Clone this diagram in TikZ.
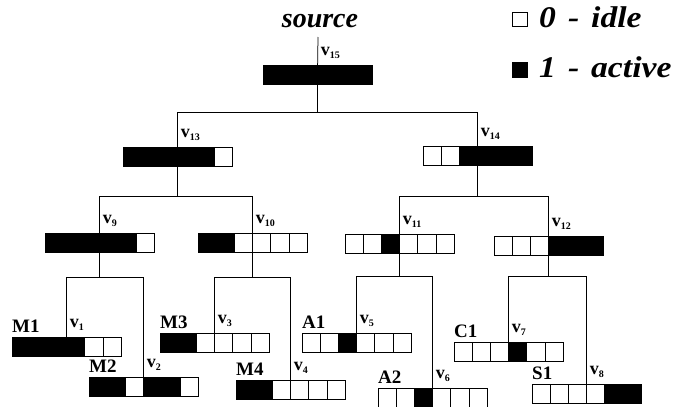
\documentclass[tikz,border=0pt]{standalone}
\usepackage{fontspec}
\setmainfont{Liberation Serif}
\newcommand\regbar[4]{%
  \node[bar] (#1) at (#2,#3) {};
  \foreach \c [count=\i from 0] in {#4} {
    \ifnum\c=1\relax
      \path[cellon] ([xshift=\i*18.2pt]#1.north west) rectangle ++(18.2,19.5);
    \else
      \path[celloff] ([xshift=\i*18.2pt]#1.north west) rectangle ++(18.2,19.5);
    \fi
  }%
}
\newcommand\vsub[1]{v{\fontsize{10}{10}\selectfont\raisebox{-3pt}{#1}}}
\newcommand\legword[1]{\scalebox{1.12}[1]{#1}}
\begin{document}
\begin{tikzpicture}[x=1pt,y=-1pt,
  bar/.style={minimum width=109.2pt, minimum height=19.5pt, inner sep=0pt, outer sep=0pt, anchor=north west},
  celloff/.style={draw, line width=0.8pt, fill=white},
  cellon/.style={draw, line width=0.8pt, fill=black},
  link/.style={line width=0.75pt},
  vlab/.style={anchor=south west, inner sep=0pt, font=\bfseries\fontsize{18}{18}\selectfont},
  nlab/.style={anchor=south west, inner sep=0pt, font=\bfseries\fontsize{19}{19}\selectfont},
  legtext/.style={anchor=base west, inner sep=0pt, font=\bfseries\itshape\fontsize{30}{30}\selectfont},
  legbox/.style={draw, line width=0.7pt, minimum size=14.5pt, inner sep=0pt}
]
\useasboundingbox (0,0) rectangle (686,407);

% bars
\regbar{v15}{263}{65}{1,1,1,1,1,1}
\regbar{v13}{123}{147}{1,1,1,1,1,0}
\regbar{v14}{423}{146}{0,0,1,1,1,1}
\regbar{v9}{45}{233}{1,1,1,1,1,0}
\regbar{v10}{198}{233}{1,1,0,0,0,0}
\regbar{v11}{345}{234}{0,0,1,0,0,0}
\regbar{v12}{494}{236}{0,0,0,1,1,1}
\regbar{v1}{12}{337}{1,1,1,1,0,0}
\regbar{v2}{89}{377}{1,1,0,1,1,0}
\regbar{v3}{160}{333}{1,1,0,0,0,0}
\regbar{v4}{236}{380}{1,1,0,0,0,0}
\regbar{v5}{302}{333}{0,0,1,0,0,0}
\regbar{v6}{378}{388}{0,0,1,0,0,0}
\regbar{v7}{454}{342}{0,0,0,1,0,0}
\regbar{v8}{532}{384}{0,0,0,0,1,1}

% source
\node[anchor=base, inner sep=0pt, font=\bfseries\itshape\fontsize{28}{28}\selectfont] (source) at (320,27) {source};
\coordinate (srcend) at (318,37);
\draw[link] (srcend) -- (v15.north);

% tree connectors
\draw[link] (v15.south) -- ++(0,28) -| (v13.north);
\draw[link] (v15.south) -- ++(0,28) -| (v14.north);
\draw[link] (v13.south) -- ++(0,30) -| (v9.north);
\draw[link] (v13.south) -- ++(0,30) -| (v10.north);
\draw[link] (v14.south) -- ++(0,30.5) -| (v11.north);
\draw[link] (v14.south) -- ++(0,30.5) -| (v12.north);
\draw[link] (v9.south) -- ++(0,25) -| (v1.north);
\draw[link] (v9.south) -- ++(0,25) -| (v2.north);
\draw[link] (v10.south) -- ++(0,25) -| (v3.north);
\draw[link] (v10.south) -- ++(0,25) -| (v4.north);
\draw[link] (v11.south) -- ++(0,23) -| (v5.north);
\draw[link] (v11.south) -- ++(0,23) -| (v6.north);
\draw[link] (v12.south) -- ++(0,21) -| (v7.north);
\draw[link] (v12.south) -- ++(0,21) -| (v8.north);

% v labels
\foreach \n in {15,13,14,9,10,11,12,1,2,3,4,5,6,7,8} {
  \node[vlab] (lab\n) at ([xshift=3pt,yshift=6pt]v\n.north) {\vsub{\n}};
}

% names
\node[nlab] (m1) at ([yshift=4pt]v1.north west) {M1};
\node[nlab] (m2) at ([yshift=4pt]v2.north west) {M2};
\node[nlab] (m3) at ([yshift=4pt]v3.north west) {M3};
\node[nlab] (m4) at ([yshift=4pt]v4.north west) {M4};
\node[nlab] (a1) at ([yshift=4pt]v5.north west) {A1};
\node[nlab] (a2) at ([yshift=4pt]v6.north west) {A2};
\node[nlab] (c1) at ([yshift=4pt]v7.north west) {C1};
\node[nlab] (s1) at ([yshift=4pt]v8.north west) {S1};

% legend
\node[legbox, fill=white] (idlebox) at (520,19.5) {};
\node[legbox, fill=black] (actbox) at (520,70) {};
\node[legtext] (idletxt) at (539,27) {\legword{0}\hspace{12pt}\legword{-}\hspace{12pt}\legword{idle}};
\node[legtext] (acttxt) at (539,77) {\legword{1}\hspace{12pt}\legword{-}\hspace{12pt}\legword{active}};
\end{tikzpicture}
\end{document}
